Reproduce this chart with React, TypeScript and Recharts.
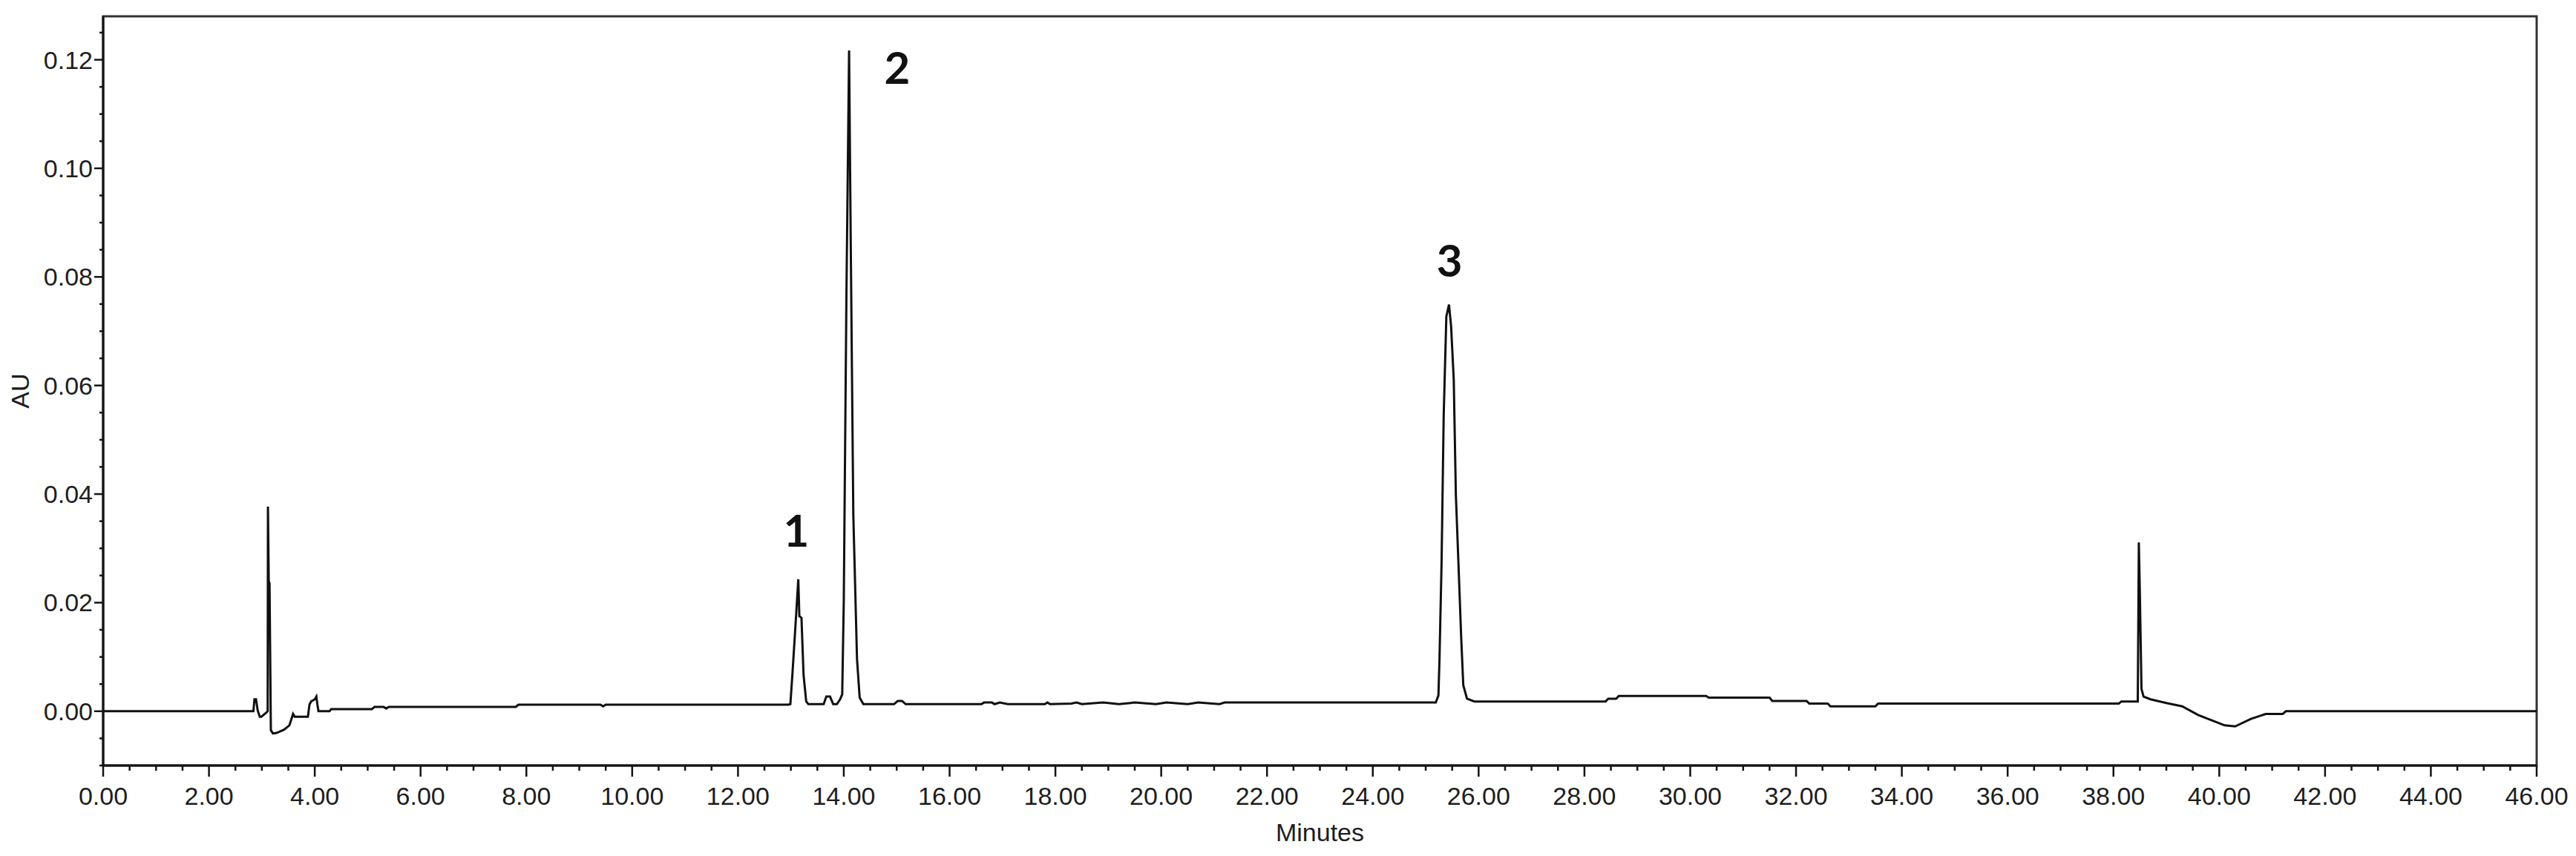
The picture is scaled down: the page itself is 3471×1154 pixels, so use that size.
import React from "react";
import { LineChart, Line, XAxis, YAxis, ReferenceDot, ReferenceArea, Label } from "recharts";

// [minutes, AU] pairs
const solventFront: [number, number][] = [
  [0, 0], [2.84, 0], [2.86, 0.0022], [2.89, 0.0022], [2.92, 0.0002], [2.96, -0.001],
  [2.99, -0.001], [3.08, -0.0003], [3.11, 0], [3.115, 0.0377], [3.13, 0.024],
  [3.145, 0.0235], [3.17, -0.0035], [3.21, -0.0041], [3.28, -0.004], [3.42, -0.0034],
  [3.52, -0.0026], [3.59, -0.0005], [3.62, -0.001], [3.87, -0.001], [3.9, 0.0012],
  [3.93, 0.0018], [4.0, 0.0022], [4.03, 0.0027], [4.05, 0.0012], [4.07, 0],
  [4.28, 0], [4.31, 0.0004], [5.08, 0.0004], [5.13, 0.0008], [5.3, 0.0008],
  [5.35, 0.0005], [5.4, 0.0008],
];

const earlyBaseline: [number, number][] = [
  [7.8, 0.0008], [7.85, 0.0012], [9.4, 0.0012], [9.45, 0.0009], [9.5, 0.0012],
  [12.95, 0.0012],
];

const peaks12: [number, number][] = [
  [12.99, 0.0013], [13.03, 0.007], [13.09, 0.0163], [13.14, 0.0243], [13.16, 0.0175],
  [13.2, 0.0172], [13.24, 0.0066], [13.29, 0.0018], [13.33, 0.0013], [13.62, 0.0013],
  [13.67, 0.0027], [13.74, 0.0027], [13.8, 0.0013], [13.87, 0.0013], [13.93, 0.0022],
  [13.97, 0.0031], [14.0, 0.0205], [14.05, 0.0768], [14.1, 0.1217], [14.13, 0.0877],
  [14.18, 0.0362], [14.25, 0.0096], [14.3, 0.0025], [14.37, 0.0013], [14.95, 0.0013],
  [15.02, 0.0019], [15.1, 0.0019], [15.17, 0.0013],
];

const midBaseline: [number, number][] = [
  [16.6, 0.0013], [16.65, 0.0016], [16.8, 0.0016], [16.85, 0.0013], [16.95, 0.0016],
  [17.1, 0.0013], [17.8, 0.0013], [17.85, 0.0016], [17.9, 0.0013], [18.3, 0.0014],
  [18.4, 0.0016], [18.5, 0.0013], [18.9, 0.0016], [19.2, 0.0013], [19.5, 0.0016],
  [19.9, 0.0013], [20.1, 0.0016], [20.5, 0.0013], [20.7, 0.0016], [21.1, 0.0013],
  [21.2, 0.0016], [25.15, 0.0016],
];

const peak3: [number, number][] = [
  [25.19, 0.0016], [25.24, 0.0029], [25.26, 0.0094], [25.3, 0.0275], [25.34, 0.0546],
  [25.39, 0.0727], [25.44, 0.0749], [25.48, 0.0709], [25.53, 0.061], [25.57, 0.0398],
  [25.62, 0.0269], [25.67, 0.0137], [25.71, 0.0048], [25.78, 0.0023], [25.92, 0.0018],
];

const lateRegion: [number, number][] = [
  [28.4, 0.0018], [28.45, 0.0023], [28.6, 0.0023], [28.65, 0.0028], [30.3, 0.0028],
  [30.35, 0.0025], [31.5, 0.0025], [31.55, 0.0019], [32.2, 0.0019], [32.25, 0.0014],
  [32.6, 0.0014], [32.65, 0.0009], [33.5, 0.0009], [33.55, 0.0014], [38.1, 0.0014],
  [38.15, 0.0018], [38.46, 0.0018], [38.48, 0.0311], [38.5, 0.0213], [38.53, 0.0041],
  [38.57, 0.0027], [38.7, 0.0022], [39.0, 0.0015], [39.3, 0.0009], [39.6, -0.0007],
  [40.1, -0.0026], [40.3, -0.0028], [40.6, -0.0014], [40.88, -0.0005], [41.2, -0.0005],
  [41.26, 0], [46, 0],
];

const peakNames = ["1", "2", "3"];
const peakLabelX = [13.1, 15.01, 25.45];
const peakLabelY = [0.0332, 0.1185, 0.083];

const xMajor = [0, 2, 4, 6, 8, 10, 12, 14, 16, 18, 20, 22, 24, 26, 28, 30, 32, 34, 36, 38, 40, 42, 44, 46];
const yMajor = [0, 0.02, 0.04, 0.06, 0.08, 0.1, 0.12];
const yMinor = [-0.01, -0.005, 0.005, 0.01, 0.015, 0.025, 0.03, 0.035, 0.045, 0.05, 0.055,
  0.065, 0.07, 0.075, 0.085, 0.09, 0.095, 0.105, 0.11, 0.115, 0.125];

const data = [...solventFront, ...earlyBaseline, ...peaks12, ...midBaseline, ...peak3, ...lateRegion]
  .map(([t, au]) => ({ t, au }));

const xTicks = xMajor.slice(0, -1).flatMap(m => [m, m + 0.5, m + 1, m + 1.5]).concat(46);
const yTicks = [...yMajor, ...yMinor].sort((a, b) => a - b);

const ink = "#141414";
const tickFont = { fontFamily: "'Liberation Sans', Arial, sans-serif", fontSize: 34, fill: "#1e1e1e" };

const isIn = (list: number[], v: number) => list.some(m => Math.abs(m - v) < 1e-9);

const XTick = ({ x, y, payload }: any) => {
  const major = isIn(xMajor, payload.value);
  return (
    <g>
      <line x1={x} x2={x} y1={y} y2={y + (major ? 15 : 7)} stroke={ink} strokeWidth={2.5} />
      {major && (
        <text x={x} y={y + 53} textAnchor="middle" {...tickFont}>{payload.value.toFixed(2)}</text>
      )}
    </g>
  );
};

const YTick = ({ x, y, payload }: any) => {
  const major = isIn(yMajor, payload.value);
  return (
    <g>
      <line x1={x} x2={x - (major ? 12 : 5)} y1={y} y2={y} stroke={ink} strokeWidth={2.5} />
      {major && (
        <text x={x - 14} y={y + 12} textAnchor="end" {...tickFont}>{payload.value.toFixed(2)}</text>
      )}
    </g>
  );
};

export default function App() {
  return (
    <div style={{ position: "absolute", left: 0, top: 0, width: 3471, height: 1154, background: "#fff" }}>
      <LineChart width={3471} height={1154} data={data} margin={{ top: 22, right: 53, left: 39, bottom: 62 }}>
        <XAxis
          dataKey="t" type="number" domain={[0, 46]} ticks={xTicks} interval={0}
          tick={<XTick />} tickLine={false} tickSize={0} tickMargin={0} height={60}
          axisLine={{ stroke: ink, strokeWidth: 3 }} allowDataOverflow
        >
          <Label
            content={(p: any) => {
              const vb = p.viewBox || { x: 139, y: 1032, width: 3279, height: 60 };
              return (
                <text x={vb.x + vb.width / 2} y={vb.y + 102} textAnchor="middle" {...tickFont}>Minutes</text>
              );
            }}
          />
        </XAxis>
        <YAxis
          type="number" domain={[-0.01, 0.128]} ticks={yTicks} interval={0} width={100}
          tick={<YTick />} tickLine={false} tickSize={0} tickMargin={0}
          axisLine={{ stroke: ink, strokeWidth: 3 }} allowDataOverflow
        >
          <Label
            content={(p: any) => {
              const vb = p.viewBox || { x: 39, y: 22, width: 100, height: 1010 };
              const cx = vb.x - 12;
              const cy = vb.y + vb.height / 2;
              return (
                <text x={cx} y={cy + 12} textAnchor="middle" transform={`rotate(-90 ${cx} ${cy})`} {...tickFont}>AU</text>
              );
            }}
          />
        </YAxis>
        {/* plot frame: top and right edges */}
        <ReferenceArea x1={0} x2={46} y1={-0.01} y2={0.128} fill="none" stroke="#333" strokeWidth={3}
          ifOverflow="visible" />
        <Line
          dataKey="au" type="linear" stroke="#101010" strokeWidth={3} dot={false}
          isAnimationActive={false} strokeLinejoin="miter"
        />
        {peakNames.map((name, i) => (
          <ReferenceDot
            key={name} x={peakLabelX[i]} y={peakLabelY[i]} r={0} stroke="none" fill="none"
            label={{ value: name, position: "center", fill: "#111", fontSize: 60, fontWeight: 700, fontFamily: "Lato, 'Open Sans', sans-serif" }}
          />
        ))}
      </LineChart>
    </div>
  );
}
